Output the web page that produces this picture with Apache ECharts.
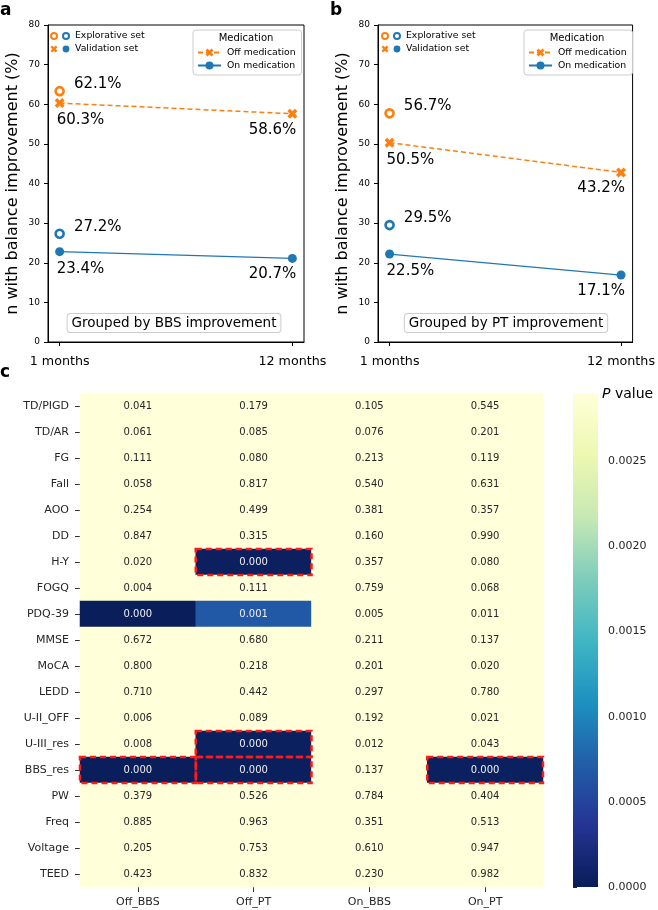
<!DOCTYPE html>
<html>
<head>
<meta charset="utf-8">
<script src="https://cdn.jsdelivr.net/npm/echarts@6/dist/echarts.min.js"></script>
<style>html,body{margin:0;padding:0;background:#fff;}#chart{width:658px;height:910px;}</style>
</head>
<body>
<div id="chart"></div>
<script>
// ---------- Data ----------
const timeLabels = ['1 months', '12 months'];
const timeX = [0, 1];
// Panel a (grouped by BBS improvement)
const offValA = [60.3, 57.6];
const onValA = [22.8, 21.1];
const offExpA = 63.3;
const onExpA = 27.3;
const offValLabelsA = ['60.3%', '58.6%'];
const onValLabelsA = ['23.4%', '20.7%'];
const offExpLabelA = '62.1%';
const onExpLabelA = '27.2%';
// Panel b (grouped by PT improvement)
const offValB = [50.3, 42.8];
const onValB = [22.2, 16.9];
const offExpB = 57.7;
const onExpB = 29.5;
const offValLabelsB = ['50.5%', '43.2%'];
const onValLabelsB = ['22.5%', '17.1%'];
const offExpLabelB = '56.7%';
const onExpLabelB = '29.5%';

// Panel c heatmap
const rows = ['TD/PIGD','TD/AR','FG','Fall','AOO','DD','H-Y','FOGQ','PDQ-39','MMSE','MoCA','LEDD','U-II_OFF','U-III_res','BBS_res','PW','Freq','Voltage','TEED'];
const cols = ['Off_BBS','Off_PT','On_BBS','On_PT'];
const pOffBBS = [0.041,0.061,0.111,0.058,0.254,0.847,0.020,0.004,0.00001,0.672,0.800,0.710,0.006,0.008,0.00002,0.379,0.885,0.205,0.423];
const pOffPT  = [0.179,0.085,0.080,0.817,0.499,0.315,0.00005,0.111,0.00068,0.680,0.218,0.442,0.089,0.00004,0.00003,0.526,0.963,0.753,0.832];
const pOnBBS  = [0.105,0.076,0.213,0.540,0.381,0.160,0.357,0.759,0.005,0.211,0.201,0.297,0.192,0.012,0.137,0.784,0.351,0.610,0.230];
const pOnPT   = [0.545,0.201,0.119,0.631,0.357,0.990,0.080,0.068,0.011,0.137,0.020,0.780,0.021,0.043,0.00004,0.404,0.513,0.947,0.982];
const highlighted = [[1,6],[1,13],[0,14],[1,14],[3,14]]; // [colIndex,rowIndex]
const cbarMax = 0.0029;
const cbarTicks = [0, 0.0005, 0.0010, 0.0015, 0.0020, 0.0025];

// ---------- Styles ----------
const ORANGE = '#ff7f0e', BLUE = '#1f77b4';
const FONT = '"DejaVu Sans", sans-serif';
const cmap = ['#081d58','#253494','#225ea8','#1d91c0','#41b6c4','#7fcdbb','#c7e9b4','#edf8b1','#ffffd9'];
function hex2rgb(h){return [parseInt(h.slice(1,3),16),parseInt(h.slice(3,5),16),parseInt(h.slice(5,7),16)];}
function colorFor(v){
  let t = Math.max(0, Math.min(1, v / cbarMax)) * (cmap.length - 1);
  const i = Math.min(Math.floor(t), cmap.length - 2), f = t - i;
  const a = hex2rgb(cmap[i]), b = hex2rgb(cmap[i+1]);
  return 'rgb(' + a.map((x,k)=>Math.round(x + (b[k]-x)*f)).join(',') + ')';
}
const XPATH = 'path://M0,1L1,0L2,1L3,0L4,1L3,2L4,3L3,4L2,3L1,4L0,3L1,2Z';

function valItems(vals, labels){
  return vals.map((v,i)=>({
    value:[timeX[i], v],
    label:{show:true, formatter:labels[i], position:'inside', fontSize:15, color:'#000', fontFamily:FONT,
      align: i===0 ? 'left' : 'right', verticalAlign:'middle',
      offset: i===0 ? [-3,17] : [4,16]}
  }));
}
function expItem(v, label){
  return [{value:[timeX[0], v], label:{show:true, formatter:label, position:'right', distance:9, offset:[0,-7], fontSize:15, color:'#000', opacity:1, fontFamily:FONT}}];
}

function lineGrid(left){ return {left:left, top:25, width:256, height:317, show:true, borderColor:'#000', borderWidth:1, backgroundColor:'#fff'}; }
function lineX(idx){
  return {gridIndex:idx, type:'value', min:-0.05, max:1.05,
    axisLine:{show:true, onZero:false, lineStyle:{color:'#000', width:1}},
    axisTick:{show:true, customValues:timeX, length:4, lineStyle:{color:'#000'}},
    axisLabel:{customValues:timeX, formatter:(v)=>timeLabels[Math.round(v)], fontSize:12.7, color:'#000', margin:13, fontFamily:FONT},
    splitLine:{show:false}};
}
function lineY(idx){
  return {gridIndex:idx, type:'value', min:0, max:80, interval:10,
    name:'n with balance improvement (%)', nameLocation:'middle', nameGap:27, nameMoveOverlap:false,
    nameTextStyle:{fontSize:16, color:'#000', fontFamily:FONT},
    axisLine:{show:true, onZero:false, lineStyle:{color:'#000', width:1}},
    axisTick:{show:true, length:4, lineStyle:{color:'#000'}},
    axisLabel:{fontSize:9, color:'#000', margin:8, fontFamily:FONT},
    splitLine:{show:false}};
}
function panelSeries(gi, offVal, onVal, offExp, onExp, offL, onL, offEL, onEL){
  return [
    {name:'Off medication', type:'line', xAxisIndex:gi, yAxisIndex:gi, data:valItems(offVal, offL),
      symbol:XPATH, symbolSize:10, color:ORANGE, itemStyle:{color:ORANGE},
      lineStyle:{color:ORANGE, width:1.5, type:[5,3]}, z:3, animation:false},
    {name:'On medication', type:'line', xAxisIndex:gi, yAxisIndex:gi, data:valItems(onVal, onL),
      symbol:'circle', symbolSize:9, color:BLUE, itemStyle:{color:BLUE},
      lineStyle:{color:BLUE, width:1.2}, z:3, animation:false},
    {name:'Explorative off', type:'scatter', xAxisIndex:gi, yAxisIndex:gi, data:expItem(offExp, offEL),
      symbol:'circle', symbolSize:8, itemStyle:{color:'#fff', borderColor:ORANGE, borderWidth:2.6, opacity:1},
      label:{color:'#000'}, z:4, animation:false},
    {name:'Explorative on', type:'scatter', xAxisIndex:gi, yAxisIndex:gi, data:expItem(onExp, onEL),
      symbol:'circle', symbolSize:8, itemStyle:{color:'#fff', borderColor:BLUE, borderWidth:2.6, opacity:1},
      label:{color:'#000'}, z:4, animation:false}
  ];
}

// heatmap data
const pCols = [pOffBBS, pOffPT, pOnBBS, pOnPT];
const heatData = [];
pCols.forEach((arr, c)=>arr.forEach((v, r)=>{
  heatData.push({value:[c, r, v], itemStyle:{color:colorFor(v)},
    label:{color: v < cbarMax*0.5 ? '#eeeeee' : '#262626'}});
}));

function xPolygon(cx, cy, h){
  const pts = [[0,1],[1,0],[2,1],[3,0],[4,1],[3,2],[4,3],[3,4],[2,3],[1,4],[0,3],[1,2]];
  return pts.map(p=>[cx + (p[0]-2)*h/2, cy + (p[1]-2)*h/2]);
}
function legend1(dx){
  return [
    {type:'circle', shape:{cx:54+dx, cy:36, r:3}, style:{fill:'#fff', stroke:ORANGE, lineWidth:2}},
    {type:'circle', shape:{cx:66+dx, cy:36, r:3}, style:{fill:'#fff', stroke:BLUE, lineWidth:2}},
    {type:'text', style:{text:'Explorative set', x:75+dx, y:36, verticalAlign:'middle', font:'9.3px '+FONT, fill:'#000'}},
    {type:'polygon', shape:{points:xPolygon(54+dx, 49, 3.4)}, style:{fill:ORANGE}},
    {type:'circle', shape:{cx:66+dx, cy:49, r:3.4}, style:{fill:BLUE}},
    {type:'text', style:{text:'Validation set', x:75+dx, y:49, verticalAlign:'middle', font:'9.3px '+FONT, fill:'#000'}}
  ];
}
function medLegend(left){
  return {data:['Off medication','On medication'], left:left, top:30, orient:'vertical', selectedMode:false,
    padding:[18,6,5,4], itemGap:4, itemWidth:23, itemHeight:10,
    borderColor:'#cccccc', borderWidth:1, borderRadius:3, backgroundColor:'rgba(255,255,255,0.8)',
    textStyle:{fontSize:9.3, color:'#000', fontFamily:FONT, padding:[0,0,0,1]}};
}

const chart = echarts.init(document.getElementById('chart'), null, {renderer:'canvas'});
chart.setOption({
  animation:false,
  backgroundColor:'#fff',
  textStyle:{fontFamily:FONT},
  grid:[lineGrid(48), lineGrid(378),
    {left:80, top:393, width:463, height:494},
    {left:573, top:393, width:25, height:494}],
  xAxis:[lineX(0), lineX(1),
    {gridIndex:2, type:'category', data:cols, position:'bottom',
      axisLine:{show:false}, axisTick:{show:true, alignWithLabel:true, length:5, lineStyle:{color:'#333'}},
      axisLabel:{fontSize:11, color:'#262626', margin:10, fontFamily:FONT}, splitLine:{show:false}},
    {gridIndex:3, type:'value', min:0, max:1, show:false}],
  yAxis:[lineY(0), lineY(1),
    {gridIndex:2, type:'category', data:rows, inverse:true,
      axisLine:{show:false}, axisTick:{show:true, alignWithLabel:true, length:5, lineStyle:{color:'#333'}},
      axisLabel:{fontSize:11, color:'#262626', margin:11, fontFamily:FONT}, splitLine:{show:false}},
    {gridIndex:3, type:'value', min:0, max:cbarMax, position:'right',
      axisLine:{show:false},
      axisTick:{show:true, customValues:cbarTicks, length:4, lineStyle:{color:'#262626'}},
      axisLabel:{customValues:cbarTicks, formatter:(v)=>v.toFixed(4), fontSize:11, color:'#262626', margin:10, fontFamily:FONT},
      splitLine:{show:false}}],
  legend:[medLegend(193), medLegend(524)],
  series:[
    ...panelSeries(0, offValA, onValA, offExpA, onExpA, offValLabelsA, onValLabelsA, offExpLabelA, onExpLabelA),
    ...panelSeries(1, offValB, onValB, offExpB, onExpB, offValLabelsB, onValLabelsB, offExpLabelB, onExpLabelB),
    {type:'heatmap', xAxisIndex:2, yAxisIndex:2, data:heatData,
      label:{show:true, formatter:(p)=>p.value[2].toFixed(3), fontSize:10, fontFamily:FONT},
      emphasis:{disabled:true}, animation:false},
    {type:'custom', xAxisIndex:2, yAxisIndex:2, data:highlighted, z:5, silent:true,
      renderItem:(params, api)=>{
        const c = api.coord([api.value(0), api.value(1)]);
        const s = api.size([1,1]);
        return {type:'rect', shape:{x:c[0]-s[0]/2, y:c[1]-s[1]/2, width:s[0], height:s[1]},
          style:{fill:null, stroke:'#ff1a1a', lineWidth:2.5, lineDash:[6,4]}};
      }},
    {type:'custom', xAxisIndex:3, yAxisIndex:3, data:[[0,0]], silent:true,
      renderItem:(params, api)=>{
        const tl = api.coord([0, cbarMax]);
        const br = api.coord([1, 0]);
        const stops = cmap.slice().reverse().map((c,i)=>({offset:i/(cmap.length-1), color:c}));
        return {type:'rect', shape:{x:tl[0], y:tl[1], width:br[0]-tl[0], height:br[1]-tl[1]},
          style:{fill:new echarts.graphic.LinearGradient(0,0,0,1,stops)}};
      }}
  ],
  graphic:[
    {type:'text', style:{text:'a', x:0, y:11, verticalAlign:'middle', font:'bold 17px '+FONT, fill:'#000'}},
    {type:'text', style:{text:'b', x:330, y:11, verticalAlign:'middle', font:'bold 17px '+FONT, fill:'#000'}},
    {type:'text', style:{text:'c', x:0, y:373, verticalAlign:'middle', font:'bold 17px '+FONT, fill:'#000'}},
    ...legend1(0), ...legend1(331),
    {type:'text', z:100, style:{text:'Medication', x:246, y:38, align:'center', verticalAlign:'middle', font:'10px '+FONT, fill:'#000'}},
    {type:'text', z:100, style:{text:'Medication', x:577, y:38, align:'center', verticalAlign:'middle', font:'10px '+FONT, fill:'#000'}},
    {type:'text', z:100, style:{text:'Grouped by BBS improvement', x:174, y:323, align:'center', verticalAlign:'middle',
      font:'13.5px '+FONT, fill:'#000', backgroundColor:'#fff', borderColor:'#cccccc', borderWidth:1, borderRadius:3, padding:[2,4,2,4]}},
    {type:'text', z:100, style:{text:'Grouped by PT improvement', x:506, y:323, align:'center', verticalAlign:'middle',
      font:'13.5px '+FONT, fill:'#000', backgroundColor:'#fff', borderColor:'#cccccc', borderWidth:1, borderRadius:3, padding:[2,4,2,4]}},
    {type:'text', style:{x:602, y:394, verticalAlign:'middle',
      text:'{i|P} value', rich:{i:{fontStyle:'italic', fontSize:14, fontFamily:FONT, fill:'#000'}}, font:'14px '+FONT, fill:'#000'}}
  ]
});
</script>
</body>
</html>
